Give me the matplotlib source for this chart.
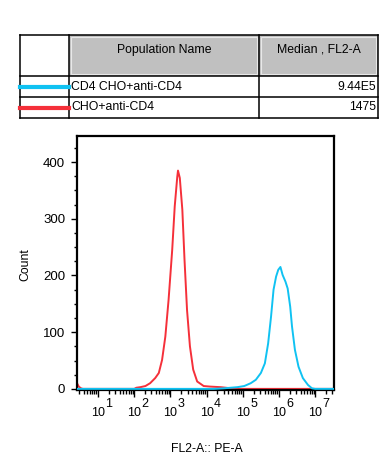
import numpy as np
import matplotlib
matplotlib.use("Agg")
import matplotlib.pyplot as plt
from matplotlib.patches import Rectangle
from matplotlib.lines import Line2D
from matplotlib.ticker import FixedLocator, NullFormatter, LogLocator

plt.rcParams['font.family'] = ['Liberation Sans', 'DejaVu Sans']

# ---- data ----
populations = ["CD4 CHO+anti-CD4", "CHO+anti-CD4"]
medians = ["9.44E5", "1475"]
header = ["Population Name", "Median , FL2-A"]
colors = ["#10c2f2", "#f5303a"]

red_log = [0.42, 0.47, 0.53, 0.58, 2.0, 2.06, 2.17, 2.31, 2.44, 2.58, 2.68, 2.77, 2.86, 2.95,
           3.05, 3.12, 3.19, 3.21, 3.26, 3.33, 3.39, 3.46, 3.54, 3.63, 3.74, 3.92, 4.1,
           4.39, 4.67, 4.94, 7.52]
red_count = [10, 4, 1, 0, 0, 2, 3, 5, 10, 19, 28, 51, 92, 157,
             245, 322, 374, 385, 372, 316, 228, 139, 75, 34, 13, 5, 4,
             3, 1, 0, 0]

blue_log = [0.42, 4.2, 4.48, 4.85, 5.04, 5.22, 5.36, 5.5, 5.61, 5.70, 5.78, 5.85, 5.92, 5.98,
            6.04, 6.10, 6.18, 6.24, 6.31, 6.36, 6.44, 6.54, 6.66, 6.80, 6.91, 7.0, 7.52]
blue_count = [0, 0, 1, 3, 5, 10, 16, 28, 45, 80, 127, 175, 198, 210,
              215, 201, 189, 177, 145, 110, 69, 39, 19, 7, 1, 0, 0]

decades = [1, 2, 3, 4, 5, 6, 7]
yticks = [0, 100, 200, 300, 400]

W, H = 389, 466
fig = plt.figure(figsize=(W / 100, H / 100), dpi=100)

# ---- table overlay (pixel coordinates) ----
ov = fig.add_axes([0, 0, 1, 1])
ov.set_xlim(0, W)
ov.set_ylim(H, 0)
ov.axis('off')

tx = [20, 69, 259, 378]
ty = [35, 76, 97, 118]
for i in (1, 2):
    x0, x1 = tx[i], tx[i + 1]
    ov.add_patch(Rectangle((x0, ty[0]), x1 - x0, ty[1] - ty[0], facecolor="#c0c0c0", edgecolor='none'))
    ov.add_patch(Rectangle((x0 + 2, ty[0] + 2), x1 - x0 - 4, ty[1] - ty[0] - 4,
                           facecolor='none', edgecolor="#e8e8e8", lw=0.8))
lw_t = 1.1
for y in ty:
    ov.add_line(Line2D([tx[0], tx[-1]], [y, y], color='black', lw=lw_t))
for x in tx:
    ov.add_line(Line2D([x, x], [ty[0], ty[-1]], color='black', lw=lw_t))
fs_t = 8.8
ov.text((tx[1] + tx[2]) / 2, 49.5, header[0], ha='center', va='center', fontsize=fs_t)
ov.text((tx[2] + tx[3]) / 2, 49.5, header[1], ha='center', va='center', fontsize=fs_t)
for r in range(2):
    yc = (ty[r + 1] + ty[r + 2]) / 2
    ov.add_line(Line2D([tx[0], tx[1]], [yc, yc], color=colors[r], lw=3))
    ov.text(tx[1] + 2, yc, populations[r], ha='left', va='center', fontsize=fs_t)
    ov.text(tx[3] - 2, yc, medians[r], ha='right', va='center', fontsize=fs_t)

# axis titles
ov.text(25, 265, "Count", rotation=90, ha='center', va='center', fontsize=8.8)
ov.text(207, 449, "FL2-A:: PE-A", ha='center', va='center', fontsize=8.8)

# ---- histogram axes ----
left, right, top, bottom = 77, 334, 136, 390
ax = fig.add_axes([left / W, 1 - bottom / H, (right - left) / W, (bottom - top) / H])
ax.plot(10 ** np.array(red_log), red_count, color=colors[1], lw=1.4, zorder=2)
ax.plot(10 ** np.array(blue_log), blue_count, color=colors[0], lw=1.4, zorder=3)
ax.set_xscale('log')
ax.set_xlim(10 ** 0.42, 10 ** 7.52)
ax.set_ylim(-2, 446)

for s in ax.spines.values():
    s.set_linewidth(1.6)

ax.set_yticks(yticks)
ax.set_yticklabels([str(v) for v in yticks], fontsize=9.5)
ax.yaxis.set_minor_locator(FixedLocator(np.arange(25, 446, 25)))
ax.tick_params(axis='y', which='major', length=4, width=1, pad=4.5)
ax.tick_params(axis='y', which='minor', length=2.2, width=1)

ax.set_xticks([10.0 ** d for d in decades])
ax.xaxis.set_major_formatter(NullFormatter())
ax.xaxis.set_minor_locator(LogLocator(base=10, subs=np.arange(2, 10), numticks=20))
ax.xaxis.set_minor_formatter(NullFormatter())
ax.tick_params(axis='x', which='major', length=5, width=1)
ax.tick_params(axis='x', which='minor', length=3, width=1)
for d in decades:
    ax.annotate("10", xy=(10.0 ** d, 0), xycoords=('data', 'axes fraction'),
                xytext=(0, -23), textcoords='offset pixels', ha='center', va='center',
                fontsize=9)
    ax.annotate(str(d), xy=(10.0 ** d, 0), xycoords=('data', 'axes fraction'),
                xytext=(11, -14), textcoords='offset pixels', ha='center', va='center',
                fontsize=9)

fig.savefig("out.png", dpi=100)
